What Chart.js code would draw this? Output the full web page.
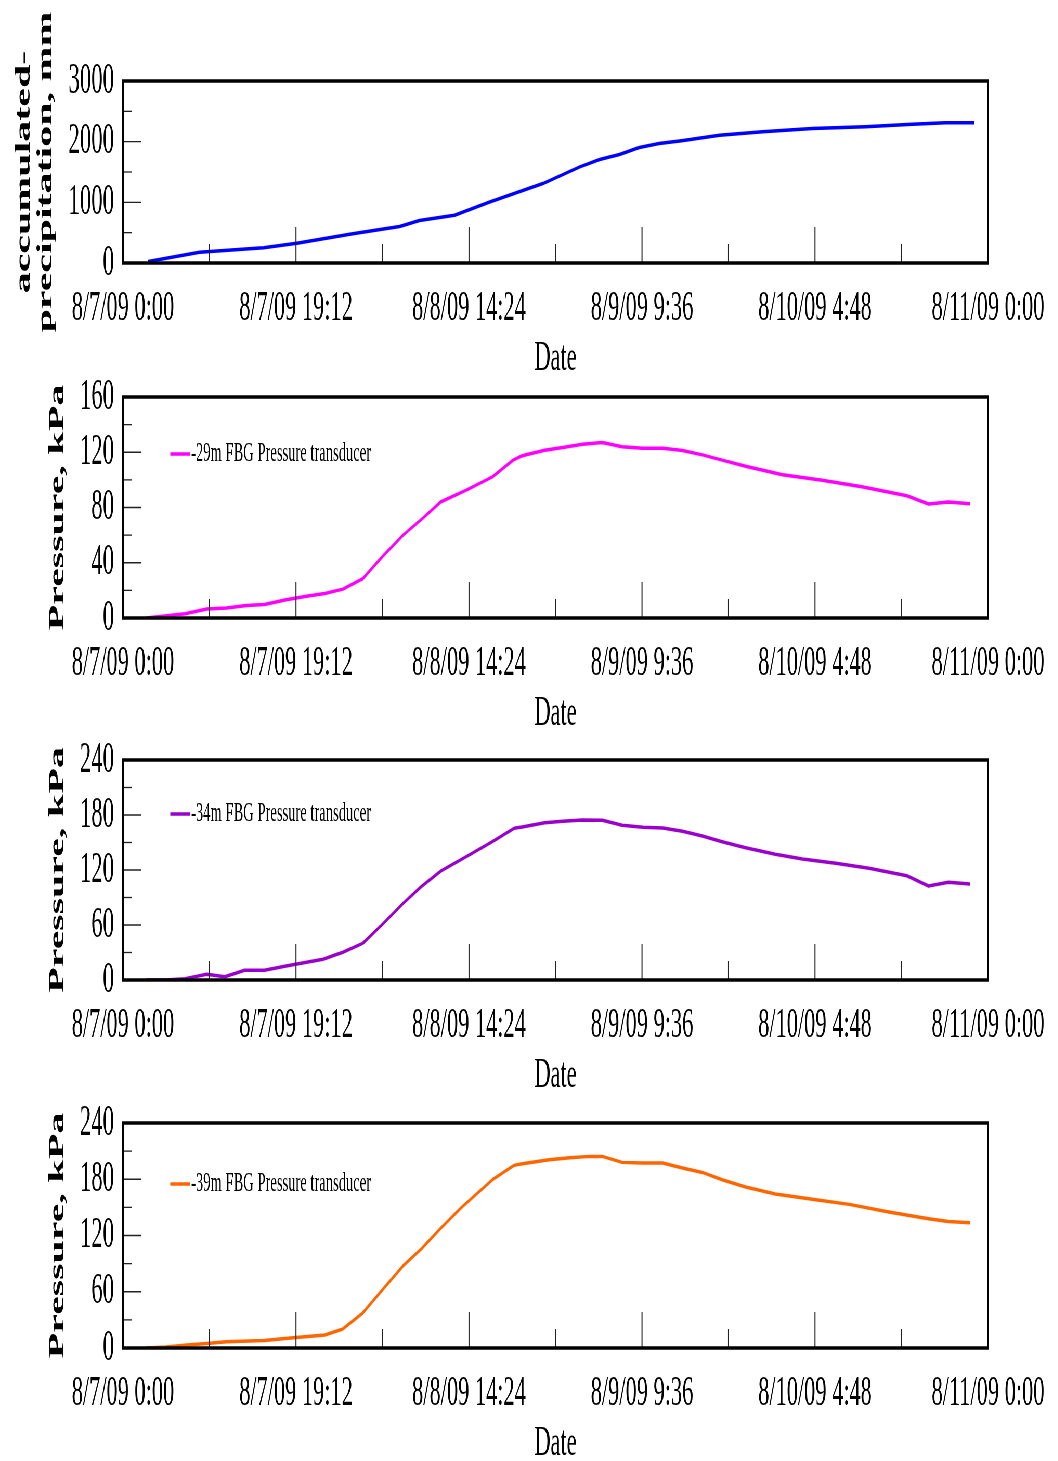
<!DOCTYPE html>
<html>
<head>
<meta charset="utf-8">
<title>Precipitation and FBG pressure, 8/7/09 - 8/11/09</title>
<script src="https://cdn.jsdelivr.net/npm/chart.js@4.4.1/dist/chart.umd.min.js"></script>
<style>
  html, body { margin: 0; padding: 0; background: #fff; overflow: hidden; }
  /* the original figure is squeezed sideways, so draw wide and compress */
  #stage { position: absolute; left: 0; top: 0; width: 2035px; height: 1470px; transform: scaleX(0.52); transform-origin: 0 0; }
  #stage canvas { position: absolute; left: 0; }
</style>
</head>
<body>
<div id="stage">
  <canvas id="precip"></canvas>
  <canvas id="p29"></canvas>
  <canvas id="p34"></canvas>
  <canvas id="p39"></canvas>
</div>
<script>
// x values are hours since 8/7/09 0:00
const xTickHours = [0, 19.2, 38.4, 57.6, 76.8, 96];
const xTickLabels = ['8/7/09 0:00', '8/7/09 19:12', '8/8/09 14:24', '8/9/09 9:36', '8/10/09 4:48', '8/11/09 0:00'];
const xMinorHours = [9.6, 28.8, 48, 67.2, 86.4];

const precipHours = [2.8, 8.5, 15.6, 19.3, 25.5, 30.7, 32.9, 36.8, 40.7, 46.6, 50.7, 52.9, 55.1, 57.3, 59.5, 62.0, 66.2, 71.0, 76.5, 82.4, 87.6, 91.3, 94.5];
const precipMm = [25, 179, 251, 327, 483, 603, 702, 786, 1005, 1309, 1584, 1706, 1788, 1904, 1971, 2014, 2107, 2162, 2219, 2244, 2289, 2311, 2312];

const hours29 = [2.6, 6.9, 9.3, 11.5, 13.7, 15.7, 18.1, 20.7, 22.4, 24.4, 26.6, 28.8, 31.1, 33.3, 35.3, 38.1, 41.0, 43.3, 44.3, 46.8, 48.8, 51.0, 53.2, 55.4, 57.7, 59.9, 62.1, 64.3, 66.5, 69.1, 73.2, 77.6, 82.0, 87.0, 89.4, 91.6, 94.0];
const kpa29 = [0, 3.1, 6.5, 7.2, 9.1, 9.8, 13.2, 16.1, 17.8, 20.9, 28.4, 44.5, 60.1, 72.4, 84.2, 92.6, 102.2, 114.3, 117.5, 121.5, 123.4, 125.8, 127.0, 123.9, 122.9, 122.9, 121.3, 118.1, 114.3, 109.9, 103.7, 99.8, 95.0, 88.5, 82.5, 83.9, 82.7];

const hours34 = [2.6, 4.8, 6.9, 9.3, 11.3, 13.5, 15.7, 18.1, 22.2, 24.4, 26.6, 28.8, 31.1, 33.1, 35.3, 38.1, 41.0, 43.4, 44.3, 46.8, 48.8, 51.0, 53.2, 55.4, 57.7, 59.9, 62.1, 64.3, 66.5, 69.1, 72.4, 75.4, 79.1, 82.8, 87.0, 89.4, 91.6, 94.0];
const kpa34 = [0, 0, 1.5, 6.2, 3.6, 10.6, 10.6, 15.3, 22.6, 30.2, 40, 60.8, 83.7, 101.8, 119, 134.6, 150.9, 165.5, 167, 171.6, 173.1, 174.5, 174.2, 168.7, 166.6, 165.8, 162.2, 157.1, 150.9, 144.3, 137.1, 132, 127.3, 121.9, 113.8, 102.5, 106.6, 104.7];

const hours39 = [2.6, 4.8, 7.1, 9.3, 11.5, 15.7, 18.9, 22.4, 24.4, 26.6, 28.8, 31.1, 33.1, 35.1, 37.5, 41.0, 43.4, 44.3, 47.3, 49.6, 51.8, 53.2, 55.4, 57.7, 59.9, 62.1, 64.3, 66.5, 69.1, 72.4, 76.9, 80.6, 85.0, 89.4, 91.6, 94.0];
const kpa39 = [0, 1.1, 3.2, 4.9, 6.7, 8.1, 11, 13.9, 20.3, 37.3, 62.2, 87.8, 105.6, 126.2, 149.3, 179.5, 194.8, 196.6, 200.9, 203, 204.4, 204.4, 198, 197.3, 197.3, 192, 187.3, 179.5, 171.7, 164.3, 158.2, 153.2, 145.1, 137.9, 135, 133.6];

const panels = [
    { id: 'precip', hours: precipHours, values: precipMm, color: '#0000ff', label: 'accumulated precipitation',
      yMax: 3000, yStep: 1000, title: ['accumulated-', 'precipitation, mm'], titlePad: 25,
      plotTop: 81, plotBottom: 262.5, legendY: null },
    { id: 'p29', hours: hours29, values: kpa29, color: '#ff00ff', label: '-29m FBG Pressure transducer',
      yMax: 160, yStep: 40, title: 'Pressure, kPa', titlePad: 90,
      plotTop: 397, plotBottom: 618.3, legendY: 57 },
    { id: 'p34', hours: hours34, values: kpa34, color: '#9900cc', label: '-34m FBG Pressure transducer',
      yMax: 240, yStep: 60, title: 'Pressure, kPa', titlePad: 90,
      plotTop: 760, plotBottom: 980, legendY: 54 },
    { id: 'p39', hours: hours39, values: kpa39, color: '#ff6600', label: '-39m FBG Pressure transducer',
      yMax: 240, yStep: 60, title: 'Pressure, kPa', titlePad: 90,
      plotTop: 1123.3, plotBottom: 1348.3, legendY: 61 }
];

const TOP_PAD = 81;
const X_AXIS_H = 122;
const Y_AXIS_W = 236.5;
const RIGHT_PAD = 135;
const CANVAS_W = 2035;

function seg(ctx, x1, y1, x2, y2) {
    ctx.beginPath();
    ctx.moveTo(x1, y1);
    ctx.lineTo(x2, y2);
    ctx.stroke();
}

// box around the plot, inward ticks and the little legend
const framePlugin = {
    id: 'frame',
    afterDraw(chart, args, opts) {
        const { ctx, chartArea: a, scales: { x, y } } = chart;
        ctx.save();
        ctx.strokeStyle = '#222';

        ctx.lineWidth = 2;
        xTickHours.slice(1, -1).forEach(h => {
            const px = x.getPixelForValue(h);
            seg(ctx, px, a.bottom, px, a.bottom - 36);
        });
        xMinorHours.forEach(h => {
            const px = x.getPixelForValue(h);
            seg(ctx, px, a.bottom, px, a.bottom - 19);
        });

        ctx.lineWidth = 1.3;
        const step = opts.yStep;
        for (let v = 0; v <= opts.yMax; v += step / 2) {
            const py = y.getPixelForValue(v);
            const major = Math.abs(v / step - Math.round(v / step)) < 1e-6;
            seg(ctx, a.left, py, a.left + (major ? 35 : 17), py);
        }

        ctx.strokeStyle = '#000';
        ctx.lineWidth = 3.5;
        seg(ctx, a.left - 2, a.top, a.right + 2, a.top);
        seg(ctx, a.left - 2, a.bottom, a.right + 2, a.bottom);
        ctx.lineWidth = 4;
        seg(ctx, a.left, a.top, a.left, a.bottom);
        seg(ctx, a.right, a.top, a.right, a.bottom);

        if (opts.legendY != null) {
            const ds = chart.data.datasets[0];
            const ly = a.top + opts.legendY;
            ctx.strokeStyle = ds.borderColor;
            ctx.lineWidth = 3.5;
            seg(ctx, a.left + 91, ly, a.left + 129, ly);
            ctx.fillStyle = '#000';
            ctx.font = '28px "Liberation Serif", "Times New Roman", serif';
            ctx.textBaseline = 'middle';
            ctx.textAlign = 'left';
            ctx.fillText(ds.label, a.left + 131, ly);
        }
        ctx.restore();
    }
};

const serif = '"Liberation Serif", "Times New Roman", serif';

panels.forEach(p => {
    const canvas = document.getElementById(p.id);
    const top = p.plotTop - TOP_PAD;
    const h = (p.plotBottom - p.plotTop) + TOP_PAD + X_AXIS_H;
    canvas.width = CANVAS_W;
    canvas.height = Math.round(h);
    canvas.style.top = top + 'px';

    new Chart(canvas, {
        type: 'line',
        data: {
            datasets: [{
                label: p.label,
                data: p.hours.map((hr, i) => ({ x: hr, y: p.values[i] })),
                borderColor: p.color,
                backgroundColor: p.color,
                borderWidth: 3.5,
                pointRadius: 0,
                tension: 0,
                borderJoinStyle: 'round',
                fill: false
            }]
        },
        options: {
            responsive: false,
            animation: false,
            devicePixelRatio: 1,
            layout: { padding: { top: TOP_PAD, right: RIGHT_PAD, bottom: 0, left: 0 } },
            plugins: {
                legend: { display: false },
                tooltip: { enabled: false },
                frame: { yMax: p.yMax, yStep: p.yStep, legendY: p.legendY }
            },
            scales: {
                x: {
                    type: 'linear',
                    min: 0,
                    max: 96,
                    afterBuildTicks: s => { s.ticks = xTickHours.map(v => ({ value: v })); },
                    afterFit: s => { s.height = X_AXIS_H; },
                    grid: { display: false },
                    border: { display: false },
                    ticks: {
                        autoSkip: false,
                        maxRotation: 0,
                        padding: 12,
                        color: '#000',
                        font: { family: serif, size: 43 },
                        callback: (v, i) => xTickLabels[i]
                    },
                    title: {
                        display: true,
                        text: 'Date',
                        color: '#000',
                        font: { family: serif, size: 43 },
                        padding: { top: 0, bottom: 0 }
                    }
                },
                y: {
                    min: 0,
                    max: p.yMax,
                    afterFit: s => { s.width = Y_AXIS_W; },
                    grid: { display: false },
                    border: { display: false },
                    ticks: {
                        stepSize: p.yStep,
                        autoSkip: false,
                        padding: 9,
                        color: '#000',
                        font: { family: serif, size: 44 },
                        callback: v => String(v)
                    },
                    title: {
                        display: true,
                        text: p.title,
                        color: '#000',
                        font: { family: serif, size: 42, weight: 'bold', lineHeight: 1.0 },
                        padding: { top: p.titlePad, bottom: 0 }
                    }
                }
            }
        },
        plugins: [framePlugin]
    });
});
</script>
</body>
</html>
